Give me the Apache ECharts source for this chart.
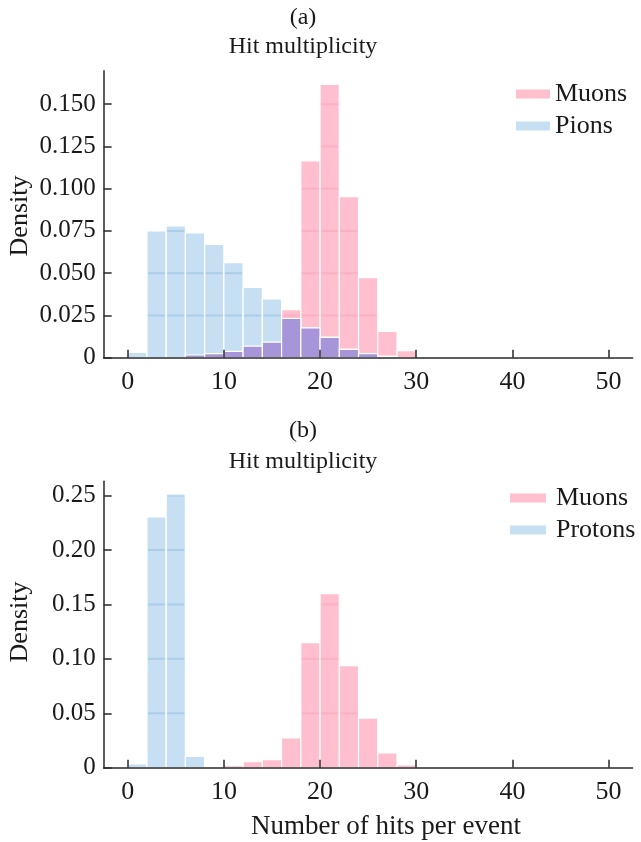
<!DOCTYPE html>
<html>
<head>
<meta charset="utf-8">
<script src="https://cdn.jsdelivr.net/npm/echarts@6/dist/echarts.min.js"></script>
<style>
html,body{margin:0;padding:0;background:#fff;}
#chart{width:641px;height:842px;}
</style>
</head>
<body>
<div id="chart"></div>
<script>
// ---- data ----
var binEdges = [0, 2, 4, 6, 8, 10, 12, 14, 16, 18, 20, 22, 24, 26, 28, 30];

var muonsA = [0, 0, 0, 0.0016, 0.0024, 0.0037, 0.0069, 0.0092, 0.0285, 0.1165, 0.1617, 0.0953, 0.0473, 0.0155, 0.0041];
var pionsA = [0.0031, 0.0750, 0.0780, 0.0738, 0.0670, 0.0562, 0.0416, 0.0348, 0.0232, 0.0177, 0.0120, 0.0049, 0.0024, 0.0008, 0];

var muonsB = [0, 0, 0, 0, 0, 0.0018, 0.0055, 0.0074, 0.0273, 0.1149, 0.1600, 0.0938, 0.0456, 0.0135, 0.0025];
var protonsB = [0.0034, 0.2304, 0.2506, 0.0104, 0, 0, 0, 0, 0, 0, 0, 0, 0, 0, 0];

var xTicks = [0, 10, 20, 30, 40, 50];
var yTicksA = [0, 0.025, 0.05, 0.075, 0.1, 0.125, 0.15];
var yTickLabelsA = ['0', '0.025', '0.050', '0.075', '0.100', '0.125', '0.150'];
var yTicksB = [0, 0.05, 0.1, 0.15, 0.2, 0.25];
var yTickLabelsB = ['0', '0.05', '0.10', '0.15', '0.20', '0.25'];

var titleLetters = ['(a)', '(b)'];
var titleText = 'Hit multiplicity';
var xName = 'Number of hits per event';
var yName = 'Density';

// ---- styles ----
var FONT = '"Liberation Serif", "Times New Roman", serif';
var TXT = '#1a1a1a';
var PINK = '#ffbfce';
var PINK_STRIPE = 'rgba(245,160,185,0.45)';
var BLUE = '#c6dff3';
var BLUE_STRIPE = 'rgba(140,185,225,0.45)';
var PURPLE = '#a795d9';

function toData(vals) {
  var out = [];
  for (var i = 0; i < vals.length; i++) out.push([binEdges[i], binEdges[i + 1], vals[i]]);
  return out;
}
function minData(a, b) {
  var out = [];
  for (var i = 0; i < a.length; i++) out.push([binEdges[i], binEdges[i + 1], Math.min(a[i], b[i])]);
  return out;
}

function makeRender(color, stripe, levels) {
  return function (params, api) {
    var x0 = api.value(0), x1 = api.value(1), v = api.value(2);
    if (!(v > 0)) return null;
    var p0 = api.coord([x0, 0]), p1 = api.coord([x1, v]);
    var children = [{
      type: 'rect',
      shape: { x: p0[0], y: p1[1], width: p1[0] - p0[0], height: p0[1] - p1[1] },
      style: { fill: color, stroke: '#ffffff', lineWidth: 1.2 }
    }];
    if (stripe) {
      for (var k = 0; k < levels.length; k++) {
        var l = levels[k];
        if (l > 0 && l < v) {
          var py = api.coord([x0, l])[1];
          children.push({
            type: 'line',
            shape: { x1: p0[0] + 1, y1: py, x2: p1[0] - 1, y2: py },
            style: { stroke: stripe, lineWidth: 2 }
          });
        }
      }
    }
    return { type: 'group', children: children };
  };
}

function xAxisCfg(idx) {
  return {
    gridIndex: idx, type: 'value', min: -2.5, max: 52.5, z: 10,
    axisLine: { show: true, onZero: false, lineStyle: { color: '#2a2a2a', width: 1.5 } },
    axisTick: { show: true, inside: true, length: 8, customValues: xTicks, lineStyle: { color: '#2a2a2a', width: 1.5 } },
    axisLabel: { customValues: xTicks, margin: 11, color: TXT, fontFamily: FONT, fontSize: 26 },
    splitLine: { show: false }
  };
}
function yAxisCfg(idx, max, ticks, labels) {
  return {
    gridIndex: idx, type: 'value', min: 0, max: max, z: 10,
    axisLine: { show: true, onZero: false, lineStyle: { color: '#2a2a2a', width: 1.5 } },
    axisTick: { show: true, inside: true, length: 8, customValues: ticks, lineStyle: { color: '#2a2a2a', width: 1.5 } },
    axisLabel: {
      customValues: ticks, margin: 8, color: TXT, fontFamily: FONT, fontSize: 25,
      formatter: function (val) {
        for (var i = 0; i < ticks.length; i++) if (Math.abs(ticks[i] - val) < 1e-9) return labels[i];
        return '';
      }
    },
    splitLine: { show: false }
  };
}

function customSeries(name, gi, vals, color, stripe, levels, z) {
  return {
    type: 'custom', name: name, xAxisIndex: gi, yAxisIndex: gi, z: z,
    itemStyle: { color: color },
    renderItem: makeRender(color, stripe, levels),
    encode: { x: [0, 1], y: 2 },
    data: vals
  };
}

var chart = echarts.init(document.getElementById('chart'), null, { renderer: 'canvas' });

var option = {
  backgroundColor: '#ffffff',
  animation: false,
  grid: [
    { left: 103.65, top: 70.7, width: 529, height: 287 },
    { left: 103.65, top: 481.3, width: 529, height: 286.4 }
  ],
  xAxis: [xAxisCfg(0), xAxisCfg(1)],
  yAxis: [
    yAxisCfg(0, 0.1698, yTicksA, yTickLabelsA),
    yAxisCfg(1, 0.2631, yTicksB, yTickLabelsB)
  ],
  legend: [
    {
      data: ['Muons', 'Pions'], orient: 'vertical', left: 516, top: 81, padding: 0,
      icon: 'rect', itemWidth: 34, itemHeight: 9, itemGap: 6,
      textStyle: { fontFamily: FONT, fontSize: 26, color: TXT }, selectedMode: false
    },
    {
      data: ['Muons', 'Protons'], orient: 'vertical', left: 510, top: 485, padding: 0,
      icon: 'rect', itemWidth: 36, itemHeight: 9, itemGap: 6,
      textStyle: { fontFamily: FONT, fontSize: 26, color: TXT, padding: [0, 0, 0, 5] }, selectedMode: false
    }
  ],
  graphic: [
    { type: 'text', x: 303, y: 18, style: { text: titleLetters[0], font: '24px ' + FONT, fill: TXT, textAlign: 'center', textVerticalAlign: 'middle' } },
    { type: 'text', x: 303, y: 47, style: { text: titleText, font: '24px ' + FONT, fill: TXT, textAlign: 'center', textVerticalAlign: 'middle' } },
    { type: 'text', x: 303, y: 431, style: { text: titleLetters[1], font: '24px ' + FONT, fill: TXT, textAlign: 'center', textVerticalAlign: 'middle' } },
    { type: 'text', x: 303, y: 462, style: { text: titleText, font: '24px ' + FONT, fill: TXT, textAlign: 'center', textVerticalAlign: 'middle' } },
    { type: 'text', x: 20, y: 216, rotation: Math.PI / 2, style: { text: yName, font: '26px ' + FONT, fill: TXT, textAlign: 'center', textVerticalAlign: 'middle' } },
    { type: 'text', x: 20, y: 622, rotation: Math.PI / 2, style: { text: yName, font: '26px ' + FONT, fill: TXT, textAlign: 'center', textVerticalAlign: 'middle' } },
    { type: 'text', x: 386, y: 827, style: { text: xName, font: '27px ' + FONT, fill: TXT, textAlign: 'center', textVerticalAlign: 'middle' } }
  ],
  series: [
    customSeries('Muons', 0, toData(muonsA), PINK, PINK_STRIPE, yTicksA, 2),
    customSeries('Pions', 0, toData(pionsA), BLUE, BLUE_STRIPE, yTicksA, 3),
    customSeries('overlapA', 0, minData(muonsA, pionsA), PURPLE, null, yTicksA, 4),
    customSeries('Muons', 1, toData(muonsB), PINK, PINK_STRIPE, yTicksB, 2),
    customSeries('Protons', 1, toData(protonsB), BLUE, BLUE_STRIPE, yTicksB, 3)
  ]
};
chart.setOption(option);
</script>
</body>
</html>
